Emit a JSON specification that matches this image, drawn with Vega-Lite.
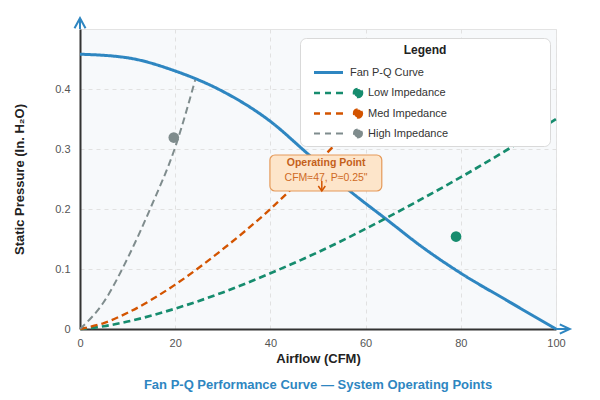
{
  "$schema": "https://vega.github.io/schema/vega-lite/v6.json",
  "width": 476,
  "height": 300,
  "autosize": "none",
  "padding": {"left": 80, "top": 29, "right": 44, "bottom": 71},
  "background": "white",
  "config": {
    "font": "Liberation Sans",
    "view": {"fill": "#f7f9fb", "stroke": "#e3e3e3"}
  },
  "title": {
    "text": "Fan P-Q Performance Curve — System Operating Points",
    "orient": "bottom",
    "anchor": "middle",
    "color": "#2e86c1",
    "fontSize": 13,
    "fontWeight": "bold",
    "offset": 14
  },
  "datasets": {
    "curves": [
      {"series": "Fan P-Q Curve", "q": 0, "p": 0.458},
      {"series": "Fan P-Q Curve", "q": 10, "p": 0.452},
      {"series": "Fan P-Q Curve", "q": 20, "p": 0.43},
      {"series": "Fan P-Q Curve", "q": 30, "p": 0.396},
      {"series": "Fan P-Q Curve", "q": 40, "p": 0.346},
      {"series": "Fan P-Q Curve", "q": 47.7, "p": 0.293},
      {"series": "Fan P-Q Curve", "q": 56.7, "p": 0.23},
      {"series": "Fan P-Q Curve", "q": 64.5, "p": 0.182},
      {"series": "Fan P-Q Curve", "q": 72, "p": 0.136},
      {"series": "Fan P-Q Curve", "q": 80, "p": 0.093},
      {"series": "Fan P-Q Curve", "q": 89.6, "p": 0.048},
      {"series": "Fan P-Q Curve", "q": 100, "p": 0},
      {"series": "Low Impedance", "q": 0, "p": 0},
      {"series": "Low Impedance", "q": 5, "p": 0.0046},
      {"series": "Low Impedance", "q": 10, "p": 0.0124},
      {"series": "Low Impedance", "q": 20, "p": 0.034},
      {"series": "Low Impedance", "q": 30, "p": 0.061},
      {"series": "Low Impedance", "q": 40, "p": 0.093},
      {"series": "Low Impedance", "q": 50, "p": 0.128},
      {"series": "Low Impedance", "q": 60, "p": 0.167},
      {"series": "Low Impedance", "q": 70, "p": 0.209},
      {"series": "Low Impedance", "q": 80, "p": 0.253},
      {"series": "Low Impedance", "q": 90, "p": 0.3},
      {"series": "Low Impedance", "q": 100, "p": 0.35},
      {"series": "Med Impedance", "q": 0, "p": 0},
      {"series": "Med Impedance", "q": 5, "p": 0.0099},
      {"series": "Med Impedance", "q": 10, "p": 0.027},
      {"series": "Med Impedance", "q": 20, "p": 0.074},
      {"series": "Med Impedance", "q": 30, "p": 0.133},
      {"series": "Med Impedance", "q": 40, "p": 0.2},
      {"series": "Med Impedance", "q": 50, "p": 0.278},
      {"series": "Med Impedance", "q": 60, "p": 0.362},
      {"series": "High Impedance", "q": 0, "p": 0},
      {"series": "High Impedance", "q": 5, "p": 0.045},
      {"series": "High Impedance", "q": 10, "p": 0.118},
      {"series": "High Impedance", "q": 15, "p": 0.205},
      {"series": "High Impedance", "q": 20, "p": 0.303},
      {"series": "High Impedance", "q": 24.2, "p": 0.415}
    ],
    "pts": [
      {"series": "Low Impedance", "q": 79, "p": 0.154},
      {"series": "Med Impedance", "q": 47, "p": 0.25},
      {"series": "High Impedance", "q": 19.7, "p": 0.319}
    ],
    "box": [{"q": 39.9, "q2": 63.4, "p": 0.23, "p2": 0.29}],
    "title1": [{"q": 51.7, "p": 0.2767, "text": "Operating Point"}],
    "title2": [{"q": 51.7, "p": 0.2525, "text": "CFM≈47, P≈0.25\""}],
    "annArrow": [{"q": 50.8, "p": 0.2467, "p2": 0.23}],
    "axisArrows": [
      {"dir": "up", "q": 0, "p": 0.5, "q2": 0, "p2": 0.518},
      {"dir": "right", "q": 100, "p": 0, "q2": 102.9, "p2": 0}
    ]
  },
  "encoding": {
    "x": {
      "field": "q",
      "type": "quantitative",
      "scale": {"domain": [0, 100], "nice": false, "zero": false},
      "axis": {
        "title": "Airflow (CFM)",
        "values": [0, 20, 40, 60, 80, 100],
        "grid": true,
        "gridDash": [4, 4],
        "gridColor": "#e1e1e1",
        "domainColor": "#333333",
        "domainWidth": 2,
        "ticks": false,
        "labelFlush": false,
        "labelFontSize": 11,
        "labelColor": "#555555",
        "labelPadding": 8,
        "titleFontSize": 13,
        "titleFontWeight": "bold",
        "titleColor": "#222222",
        "titlePadding": 4
      }
    },
    "y": {
      "field": "p",
      "type": "quantitative",
      "scale": {"domain": [0, 0.5], "nice": false, "zero": false},
      "axis": {
        "title": "Static Pressure (In. H₂O)",
        "values": [0, 0.1, 0.2, 0.3, 0.4],
        "format": "~g",
        "grid": true,
        "gridDash": [4, 4],
        "gridColor": "#e1e1e1",
        "domainColor": "#333333",
        "domainWidth": 2,
        "ticks": false,
        "labelFlush": false,
        "labelFontSize": 11,
        "labelColor": "#555555",
        "labelPadding": 10,
        "titleFontSize": 13,
        "titleFontWeight": "bold",
        "titleColor": "#222222",
        "titlePadding": 28
      }
    }
  },
  "layer": [
    {
      "data": {"name": "curves"},
      "mark": {"type": "line", "interpolate": "monotone"},
      "encoding": {
        "color": {
          "field": "series",
          "type": "nominal",
          "scale": {
            "domain": ["Fan P-Q Curve", "Low Impedance", "Med Impedance", "High Impedance"],
            "range": ["#2e86c1", "#168c6e", "#d35400", "#7f8c8d"]
          },
          "legend": {
            "title": "Legend",
            "orient": "none",
            "legendX": 220,
            "legendY": 9,
            "padding": 7,
            "fillColor": "white",
            "strokeColor": "#d9d9d9",
            "cornerRadius": 6,
            "titleAnchor": "middle",
            "titleFontSize": 12,
            "titleFontWeight": "bold",
            "titleColor": "#222222",
            "titlePadding": 9,
            "labelFontSize": 11,
            "labelColor": "#333333",
            "labelLimit": 0,
            "labelOffset": 5,
            "labelAlign": "left",
            "symbolOffset": 46,
            "symbolSize": 100,
            "rowPadding": 8.5,
            "labelExpr": "datum.label + '\u00a0\u00a0\u00a0\u00a0\u00a0\u00a0\u00a0\u00a0\u00a0\u00a0\u00a0\u00a0\u00a0\u00a0\u00a0\u00a0\u00a0\u00a0\u00a0\u00a0\u00a0\u00a0\u00a0\u00a0\u00a0\u00a0\u00a0\u00a0\u00a0\u00a0\u00a0\u200b'",
            "encode": {
              "symbols": {
                "update": {
                  "x": {"value": 51},
                  "shape": {"signal": "datum.value === 'Fan P-Q Curve' ? 'M-8.8,0L-3,0' : 'M-8.8,0L-7.6,0M-6.6,0L-5.4,0M-4.4,0L-3,0M0.8,0A0.8,0.8,0,1,1,-0.8,0A0.8,0.8,0,1,1,0.8,0Z'"},
                  "fill": {"signal": "datum.value === 'Fan P-Q Curve' ? 'transparent' : scale('color', datum.value)"},
                  "stroke": {"signal": "scale('color', datum.value)"},
                  "strokeWidth": {"signal": "datum.value === 'Fan P-Q Curve' ? 3 : 2"},
                  "strokeJoin": {"value": "round"},
                  "strokeDash": {"value": []},
                  "opacity": {"value": 1}
                }
              },
              "labels": {
                "update": {
                  "x": {"signal": "datum.value === 'Fan P-Q Curve' ? 43 : 61"}
                }
              }
            }
          }
        },
        "strokeDash": {
          "field": "series",
          "type": "nominal",
          "scale": {
            "domain": ["Fan P-Q Curve", "Low Impedance", "Med Impedance", "High Impedance"],
            "range": [[1, 0], [7, 4], [7, 4], [7, 4]]
          },
          "legend": null
        },
        "strokeWidth": {
          "field": "series",
          "type": "nominal",
          "scale": {
            "domain": ["Fan P-Q Curve", "Low Impedance", "Med Impedance", "High Impedance"],
            "range": [3, 2, 2, 2]
          },
          "legend": null
        }
      }
    },
    {
      "data": {"name": "pts"},
      "mark": {"type": "point", "filled": true, "opacity": 1, "size": 113},
      "encoding": {
        "color": {"field": "series", "type": "nominal", "legend": null}
      }
    },
    {
      "data": {"name": "box"},
      "mark": {"type": "rect", "fill": "#fde5ca", "stroke": "#e59a5a", "strokeWidth": 1.2, "cornerRadius": 5},
      "encoding": {
        "x2": {"field": "q2"},
        "y2": {"field": "p2"}
      }
    },
    {
      "data": {"name": "title1"},
      "mark": {"type": "text", "fontSize": 10.5, "fontWeight": "bold", "color": "#c4601a", "align": "center", "baseline": "middle"},
      "encoding": {"text": {"field": "text"}}
    },
    {
      "data": {"name": "title2"},
      "mark": {"type": "text", "fontSize": 10.5, "color": "#cf6a25", "align": "center", "baseline": "middle"},
      "encoding": {"text": {"field": "text"}}
    },
    {
      "data": {"name": "annArrow"},
      "mark": {"type": "rule", "color": "#d35400", "strokeWidth": 1.5},
      "encoding": {"y2": {"field": "p2"}}
    },
    {
      "data": {"name": "annArrow"},
      "mark": {"type": "point", "shape": "M-0.7,-1L0,0L0.7,-1", "size": 100, "filled": false, "color": "#d35400", "strokeWidth": 1.5, "opacity": 1},
      "encoding": {"y": {"field": "p2", "type": "quantitative"}}
    },
    {
      "data": {"name": "axisArrows"},
      "mark": {"type": "rule", "color": "#2e86c1", "strokeWidth": 2},
      "encoding": {"x2": {"field": "q2"}, "y2": {"field": "p2"}}
    },
    {
      "data": {"name": "axisArrows"},
      "mark": {"type": "point", "filled": false, "size": 400, "color": "#2e86c1", "strokeWidth": 2, "opacity": 1},
      "encoding": {
        "x": {"field": "q2", "type": "quantitative"},
        "y": {"field": "p2", "type": "quantitative"},
        "shape": {
          "field": "dir",
          "type": "nominal",
          "scale": {"domain": ["up", "right"], "range": ["M-0.55,1L0,0L0.55,1", "M-1,-0.47L0,0L-1,0.47"]},
          "legend": null
        }
      }
    }
  ]
}
